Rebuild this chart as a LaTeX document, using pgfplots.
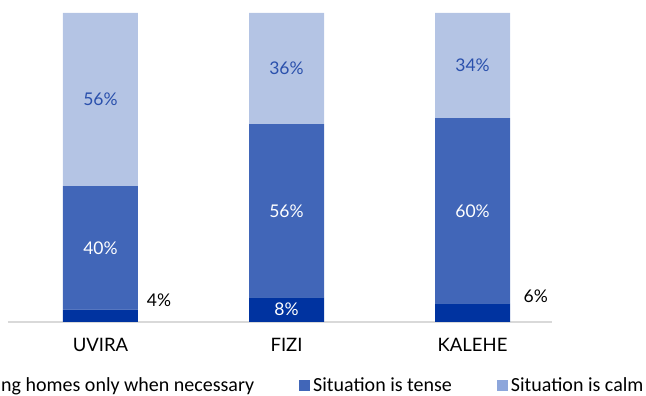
\documentclass[border=0pt]{standalone}
\usepackage{pgfplots}
\pgfplotsset{compat=1.18}
\usepackage{fontspec}
\setmainfont{Carlito}
\newfontfamily\labfont{Lato}
\definecolor{cdark}{HTML}{0033A0}
\definecolor{ctense}{HTML}{4166B8}
\definecolor{ccalm}{HTML}{B4C4E4}
\definecolor{ccalmleg}{HTML}{8DA6DB}
\definecolor{ccalmtxt}{HTML}{2A50AC}
\definecolor{caxis}{HTML}{D9D9D9}
\begin{document}
\begin{tikzpicture}
\clip (-8pt,-74pt) rectangle (638pt,322pt);
\useasboundingbox (-8pt,-74pt) rectangle (638pt,322pt);
\begin{axis}[
  at={(0pt,0pt)}, anchor=south west,
  scale only axis, width=544pt, height=309pt,
  ybar stacked, bar width=75pt,
  xmin=-0.497, xmax=2.427, ymin=0, ymax=100,
  axis y line=none, axis x line*=bottom,
  x axis line style={draw=caxis, line width=1.2pt, -},
  xtick={0,1,2}, xticklabels={UVIRA,FIZI,KALEHE},
  xtick style={draw=none},
  xticklabel style={font=\labfont\fontsize{18.5}{22}\selectfont, yshift=-13pt},
  legend columns=3,
  legend style={draw=none, fill=none, inner sep=0pt, at={(rel axis cs:1.174,-0.206)}, anchor=east,
    font=\fontsize{20}{24}\selectfont,
    /tikz/every even column/.append style={column sep=42pt},
    nodes={inner xsep=3pt}},
  legend image code/.code={\fill[#1] (0pt,-5.5pt) rectangle (11pt,5.5pt);},
  clip=false,
]
\addplot[fill=cdark, draw=none] coordinates {(0,4) (1,8) (2,6)};
\addlegendentry{Leaving homes only when necessary}
\addplot[fill=ctense, draw=none] coordinates {(0,40) (1,56) (2,60)};
\addlegendentry{Situation is tense}
\addplot[fill=ccalm, draw=none, legend image code/.code={\fill[ccalmleg] (0pt,-5.5pt) rectangle (11pt,5.5pt);}] coordinates {(0,56) (1,36) (2,34)};
\addlegendentry{Situation is calm}
\coordinate (c0) at (axis cs:0,72);
\coordinate (c1) at (axis cs:1,82);
\coordinate (c2) at (axis cs:2,83);
\coordinate (t0) at (axis cs:0,24);
\coordinate (t1) at (axis cs:1,36);
\coordinate (t2) at (axis cs:2,36);
\coordinate (d1) at (axis cs:1,4);
\coordinate (d0) at (axis cs:0.315,7.0);
\coordinate (d2) at (axis cs:2.34,8.2);
\end{axis}
\tikzset{lab/.style={font=\labfont\fontsize{17.5}{21}\selectfont}}
\node[lab, text=ccalmtxt] at (c0) {56\%};
\node[lab, text=ccalmtxt] at (c1) {36\%};
\node[lab, text=ccalmtxt] at (c2) {34\%};
\node[lab, text=white] at (t0) {40\%};
\node[lab, text=white] at (t1) {56\%};
\node[lab, text=white] at (t2) {60\%};
\node[lab, text=white] at (d1) {8\%};
\node[lab, text=black] at (d0) {4\%};
\node[lab, text=black] at (d2) {6\%};
\end{tikzpicture}
\end{document}
